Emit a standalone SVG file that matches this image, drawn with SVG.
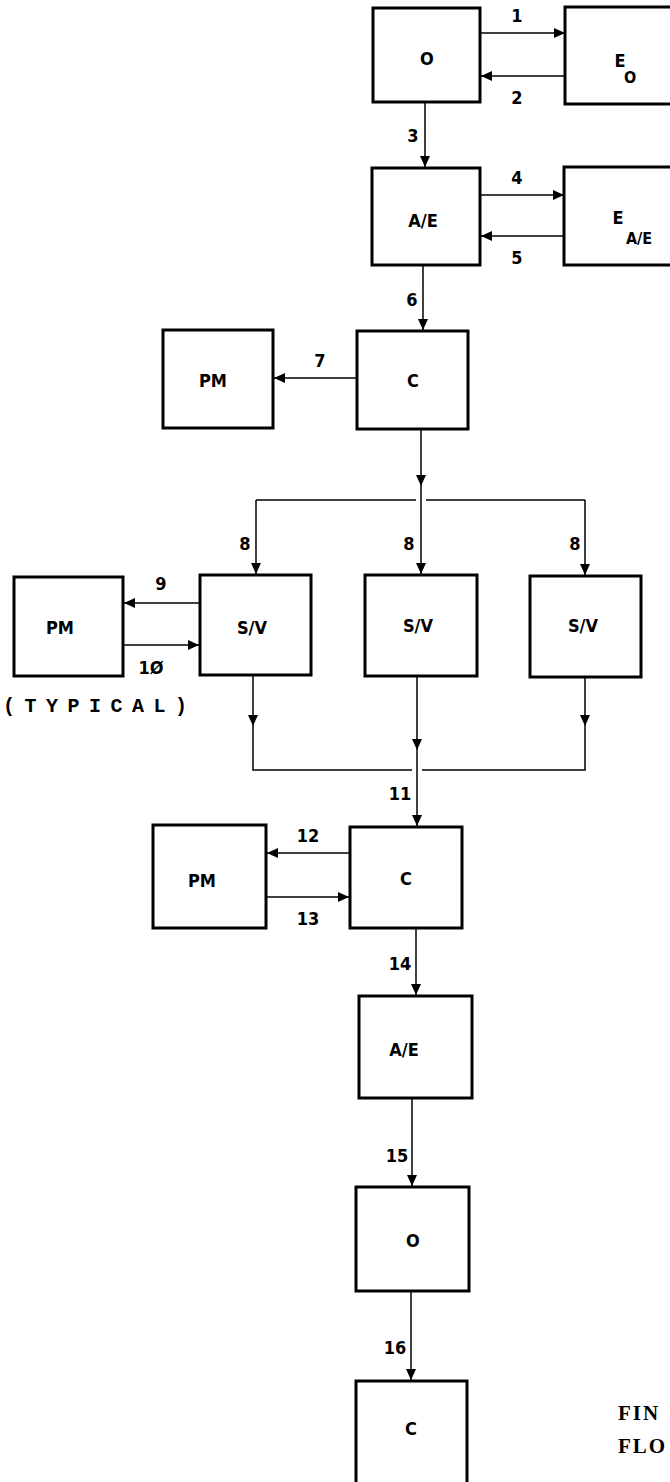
<svg xmlns="http://www.w3.org/2000/svg" width="670" height="1482" viewBox="0 0 670 1482">
<style>
.box{fill:#fff;stroke:#000;stroke-width:3}
.lbl{font-family:"DejaVu Sans Condensed","DejaVu Sans",sans-serif;font-weight:bold;font-size:18px;fill:#000}
.nt{font-family:"DejaVu Sans Condensed","DejaVu Sans",sans-serif;font-weight:bold;font-size:18px;fill:#000;text-anchor:middle;dominant-baseline:central}
.sub{font-size:16px}
.ln{fill:none;stroke:#000;stroke-width:1.5}
.arr{marker-end:url(#ah)}
.typ{font-family:"Liberation Mono",monospace;font-weight:bold;font-size:20px;fill:#000}
.cap{font-family:"Liberation Serif",serif;font-weight:bold;font-size:21px;fill:#000;letter-spacing:2px}
</style>
<defs>
<marker id="ah" markerUnits="userSpaceOnUse" markerWidth="11" markerHeight="10" refX="11" refY="5" orient="auto">
<path d="M0,0 L11,5 L0,10 z" fill="#000"/>
</marker>
</defs>
<g id="connectors">
<path class="ln arr" d="M480,33 H565"/>
<path class="ln arr" d="M565,76 H481"/>
<path class="ln arr" d="M425,102 V167"/>
<path class="ln arr" d="M480,195 H564"/>
<path class="ln arr" d="M564,236 H481"/>
<path class="ln arr" d="M423,265 V330"/>
<path class="ln arr" d="M357,378 H274"/>
<path class="ln arr" d="M421,429 V486"/>
<path class="ln arr" d="M421,486 V574"/>
<path class="ln" d="M256,500 H416 M426,500 H585"/>
<path class="ln arr" d="M256,500 V574"/>
<path class="ln arr" d="M585,500 V575"/>
<path class="ln arr" d="M200,603 H124"/>
<path class="ln arr" d="M123,645 H199"/>
<path class="ln arr" d="M253,675 V726"/>
<path class="ln" d="M253,726 V770 H412 M422,770 H585 V726"/>
<path class="ln arr" d="M585,677 V726"/>
<path class="ln arr" d="M417,676 V750"/>
<path class="ln arr" d="M417,750 V826"/>
<path class="ln arr" d="M350,853 H267"/>
<path class="ln arr" d="M266,897 H349"/>
<path class="ln arr" d="M416,928 V995"/>
<path class="ln arr" d="M412,1098 V1186"/>
<path class="ln arr" d="M411,1291 V1380"/>
<text class="lbl" x="517" y="22" text-anchor="middle">1</text>
<text class="lbl" x="517" y="104" text-anchor="middle">2</text>
<text class="lbl" x="413" y="142" text-anchor="middle">3</text>
<text class="lbl" x="517" y="184" text-anchor="middle">4</text>
<text class="lbl" x="517" y="264" text-anchor="middle">5</text>
<text class="lbl" x="412" y="306" text-anchor="middle">6</text>
<text class="lbl" x="320" y="367" text-anchor="middle">7</text>
<text class="lbl" x="245" y="550" text-anchor="middle">8</text>
<text class="lbl" x="409" y="550" text-anchor="middle">8</text>
<text class="lbl" x="575" y="550" text-anchor="middle">8</text>
<text class="lbl" x="161" y="590" text-anchor="middle">9</text>
<text class="lbl" x="151" y="674" text-anchor="middle">1Ø</text>
<text class="lbl" x="400" y="800" text-anchor="middle">11</text>
<text class="lbl" x="308" y="842" text-anchor="middle">12</text>
<text class="lbl" x="308" y="925" text-anchor="middle">13</text>
<text class="lbl" x="400" y="970" text-anchor="middle">14</text>
<text class="lbl" x="397" y="1162" text-anchor="middle">15</text>
<text class="lbl" x="395" y="1354" text-anchor="middle">16</text>
</g>
<g id="n_o1"><rect class="box" x="373" y="8" width="107" height="94"/><text class="nt" x="427" y="58">O</text></g>
<g id="n_e0"><rect class="box" x="565" y="7" width="112" height="97"/><text class="nt" x="620" y="60">E</text><text class="nt sub" x="630" y="77">O</text></g>
<g id="n_ae1"><rect class="box" x="372" y="168" width="108" height="97"/><text class="nt" x="423" y="220">A/E</text></g>
<g id="n_eae"><rect class="box" x="564" y="167" width="112" height="98"/><text class="nt" x="618" y="217">E</text><text class="nt sub" x="639" y="238">A/E</text></g>
<g id="n_c1"><rect class="box" x="357" y="331" width="111" height="98"/><text class="nt" x="413" y="380">C</text></g>
<g id="n_pm1"><rect class="box" x="163" y="330" width="110" height="98"/><text class="nt" x="213" y="380">PM</text></g>
<g id="n_pm2"><rect class="box" x="14" y="577" width="109" height="99"/><text class="nt" x="60" y="627">PM</text></g>
<g id="n_sv1"><rect class="box" x="200" y="575" width="111" height="100"/><text class="nt" x="252" y="627">S/V</text></g>
<g id="n_sv2"><rect class="box" x="365" y="575" width="112" height="101"/><text class="nt" x="418" y="625">S/V</text></g>
<g id="n_sv3"><rect class="box" x="530" y="576" width="111" height="101"/><text class="nt" x="583" y="625">S/V</text></g>
<g id="n_c2"><rect class="box" x="350" y="827" width="112" height="101"/><text class="nt" x="406" y="878">C</text></g>
<g id="n_pm3"><rect class="box" x="153" y="825" width="113" height="103"/><text class="nt" x="202" y="880">PM</text></g>
<g id="n_ae2"><rect class="box" x="359" y="996" width="113" height="102"/><text class="nt" x="404" y="1049">A/E</text></g>
<g id="n_o2"><rect class="box" x="356" y="1187" width="113" height="104"/><text class="nt" x="413" y="1240">O</text></g>
<g id="n_c3"><rect class="box" x="356" y="1381" width="111" height="110"/><text class="nt" x="411" y="1428">C</text></g>
<text class="typ" x="3" y="712" textLength="184" lengthAdjust="spacing">(TYPICAL)</text>
<text class="cap" x="618" y="1420">FIN</text>
<text class="cap" x="618" y="1453">FLO</text>
</svg>
